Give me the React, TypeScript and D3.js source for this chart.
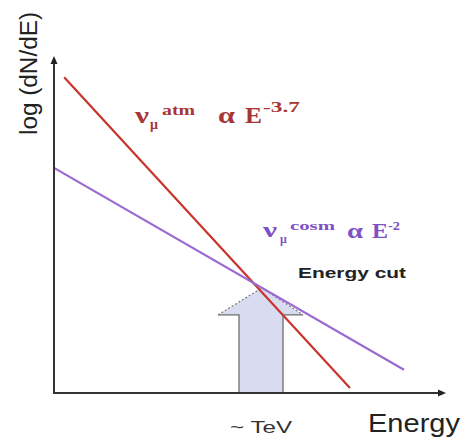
import React from "react";
import * as d3 from "d3";

// Schematic data: log(E) vs log(dN/dE) (arbitrary units)
const atmLogE = [0.26, 7.57];
const atmLogFlux = [9.4, 0.15];
const cosmLogE = [0, 8.95];
const cosmLogFlux = [6.7, 0.69];
const cutLogE = [5.32];
const axisLabels = ["Energy", "log (dN/dE)"];
const cutLabels = ["~ TeV", "Energy cut"];

const W = 464;
const H = 437;

export default function App() {
  const x = d3.scaleLinear().domain([0, 10]).range([54, 445]);
  const y = d3.scaleLinear().domain([0, 10]).range([393, 57]);
  const line = d3
    .line<[number, number]>()
    .x((d) => x(d[0]))
    .y((d) => y(d[1]));
  const atm = atmLogE.map((e, i) => [e, atmLogFlux[i]] as [number, number]);
  const cosm = cosmLogE.map((e, i) => [e, cosmLogFlux[i]] as [number, number]);

  // arrow tip on the cosmic line at the cut energy
  const slope = (cosmLogFlux[1] - cosmLogFlux[0]) / (cosmLogE[1] - cosmLogE[0]);
  const tipY = y(cosmLogFlux[0] + slope * (cutLogE[0] - cosmLogE[0]));
  const tipX = x(cutLogE[0]);
  const baseY = y(0);
  const wingY = tipY + 27;
  const wl = tipX - 44,
    wr = tipX + 41,
    sl = tipX - 23,
    sr = tipX + 21;

  const red = "#c8342c";
  const redText = "#a83636";
  const purple = "#9a6ad2";
  const purpleText = "#7f52c4";
  const serif = "'Liberation Serif', 'DejaVu Serif', serif";
  const sans = "'Liberation Sans', Arial, sans-serif";

  return (
    <svg
      width={W}
      height={H}
      style={{ position: "absolute", left: 0, top: 0, background: "#fff" }}
    >
      {/* arrow body */}
      <path
        d={`M${sl},${baseY} L${sl},${wingY} L${wl},${wingY} L${tipX},${tipY} L${wr},${wingY} L${sr},${wingY} L${sr},${baseY} Z`}
        fill="#d9dcf0"
        stroke="none"
      />
      <path
        d={`M${sl},${baseY} L${sl},${wingY} L${wl},${wingY}`}
        fill="none"
        stroke="#6f6f6f"
        strokeWidth={1.3}
      />
      <path
        d={`M${sr},${baseY} L${sr},${wingY} L${wr},${wingY}`}
        fill="none"
        stroke="#6f6f6f"
        strokeWidth={1.3}
      />
      <path
        d={`M${wl},${wingY} L${tipX},${tipY} L${wr},${wingY}`}
        fill="none"
        stroke="#777"
        strokeWidth={1.2}
        strokeDasharray="2,2"
      />

      {/* lines */}
      <path d={line(atm) || ""} fill="none" stroke={red} strokeWidth={2.2} />
      <path d={line(cosm) || ""} fill="none" stroke={purple} strokeWidth={2.2} />

      {/* axes */}
      <line x1={54} y1={baseY} x2={54} y2={62} stroke="#333" strokeWidth={2} />
      <path d="M54,56 L50.5,64 L57.5,64 Z" fill="#222" />
      <line x1={53} y1={baseY} x2={440} y2={baseY} stroke="#333" strokeWidth={2} />
      <path d={`M446,${baseY} L438,${baseY - 3.5} L438,${baseY + 3.5} Z`} fill="#222" />

      {/* axis labels */}
      <text
        x={368}
        y={432}
        fontFamily={sans}
        fontSize={26}
        fill="#222"
        textLength={92}
        lengthAdjust="spacingAndGlyphs"
      >
        {axisLabels[0]}
      </text>
      <text
        transform="translate(37,135) rotate(-90)"
        x={0}
        y={0}
        fontFamily={sans}
        fontSize={23}
        fill="#222"
        textLength={123}
        lengthAdjust="spacingAndGlyphs"
      >
        {axisLabels[1]}
      </text>
      <text
        x={230}
        y={433}
        fontFamily={sans}
        fontSize={17}
        fill="#333"
        textLength={62}
        lengthAdjust="spacingAndGlyphs"
      >
        {cutLabels[0]}
      </text>
      <text
        x={298}
        y={278}
        fontFamily={sans}
        fontSize={15}
        fontWeight="bold"
        fill="#222"
        textLength={108}
        lengthAdjust="spacingAndGlyphs"
      >
        {cutLabels[1]}
      </text>

      {/* atmospheric label */}
      <g fontFamily={serif} fontWeight="bold" fill={redText}>
        <text x={135} y={123} fontSize={24} textLength={14} lengthAdjust="spacingAndGlyphs">ν</text>
        <text x={150} y={129} fontSize={14}>μ</text>
        <text x={162} y={115} fontSize={14} textLength={33} lengthAdjust="spacingAndGlyphs">atm</text>
        <text x={218} y={123} fontSize={24} textLength={17} lengthAdjust="spacingAndGlyphs">α</text>
        <text x={245} y={123} fontSize={24} textLength={17} lengthAdjust="spacingAndGlyphs">E</text>
        <text x={263} y={112} fontSize={14} textLength={37} lengthAdjust="spacingAndGlyphs">-3.7</text>
      </g>

      {/* cosmic label */}
      <g fontFamily={serif} fontWeight="bold" fill={purpleText}>
        <text x={263} y={237} fontSize={21} textLength={14} lengthAdjust="spacingAndGlyphs">ν</text>
        <text x={280} y={243} fontSize={12}>μ</text>
        <text x={290} y={230} fontSize={13} textLength={45} lengthAdjust="spacingAndGlyphs">cosm</text>
        <text x={347} y={238} fontSize={21} textLength={16} lengthAdjust="spacingAndGlyphs">α</text>
        <text x={372} y={238} fontSize={20} textLength={16} lengthAdjust="spacingAndGlyphs">E</text>
        <text x={388} y={230} fontSize={13} textLength={12} lengthAdjust="spacingAndGlyphs">-2</text>
      </g>
    </svg>
  );
}
